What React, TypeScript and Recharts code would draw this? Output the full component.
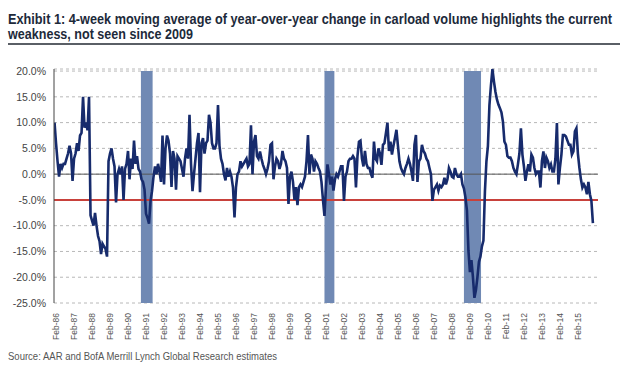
import { LineChart, Line, XAxis, YAxis, CartesianGrid, ReferenceArea, ReferenceLine } from 'recharts'

// 4-week moving average of y/y carload change
const yoy1986to1990 = [
  10, 6, 2.5, -0.5, 2, 1.2, 2, 2, 3, 4, 5.5, 4,
  -1.3, 3, 4, 6, 4.5, 7.5, 8, 15, 9, 10, 8.5, 15,
  -8, -9, -10, -7.5, -10, -12, -13, -15.5, -13.5, -14, -14.5, -16,
  2.5, 4, 5, 3, 1.5, -5.5, 0, 1, 0, 1.5, -5, 1,
  2, 4.5, -1, 3, 1, 6.5, 2, 3.5, 1, 0.5, -1, -1.5,
]
const yoy1991to1995 = [
  -3, -7.7, -8.5, -9.6, -5.2, -3.3, -0.5, 1.5, 0, 2, 0.5, -1.5,
  7.5, -2, 5, 7.5, 6.5, 4, -2.5, 4.5, 3, -3, 3.5, 3,
  2.5, 1, -0.5, 3, 5, 3, 11.5, 2, -3.3, 0, 3, 6,
  8, -3.5, 6, 7, 4, 6, 6.5, 11.5, 10, 6, 5, 5,
  6, 13.4, 5.5, 3, 2, 0, -1.2, 1.2, -0.5, 0.5, -0.5, -2.6,
]
const yoy1996to2000 = [
  -8.4, -2.5, 0, 0.5, 2.5, 1.5, 2, 2.5, 3, 1.5, 2, 9.5,
  0, 6.3, 7.6, 3.5, 3, 4.4, 3, 1.8, 1, 0, 1, 2.5,
  5.7, 6, -1, 1.5, 3, 2.5, 1, 2, 4.5, 3, 2.5, 1.2,
  -5.8, -0.5, 0.5, -1.5, -5, -2.5, -6, -2.5, -2, -2.5, -1.5, -0.5,
  2.5, 7.6, 0, 3.8, 3, 0.5, 2.5, 2, 1.2, 0.5, -1.5, -5,
]
const yoy2001to2005 = [
  -8.1, -2.5, 1.9, 0, -2, -0.5, -3.2, -1, 0, -0.5, 0.5, 1.5,
  1.5, -5.2, -0.5, 0.5, 2.5, 3, 3, 3.5, 3, -2.6, 3.5, 6.3,
  6.5, 3, 1.5, 4.5, 2, 1.2, 1.2, 0, -0.7, 6.3, 3, 2.5,
  5, 4, 1.8, 5.7, 6, 8, 10, 4.5, 6.3, 3.8, 5.5, 7,
  8.6, 5.5, 2.5, 1.2, 0.5, 0, 1.2, 2, 3, 2, 0.5, -1.3,
]
const yoy2006to2010 = [
  5.7, 7.6, -1.5, 2.5, 3, 5.7, 4.5, 4, 3, 2.5, 1.2, 0,
  -5.2, -3, -2.5, -2, -3.2, -2.2, -2.5, -2, -0.7, -2, -1, 1.2,
  0.5, -0.5, -0.7, 1.2, 0, -0.5, -0.5, 0, -2, -2.8, -4.5, -7,
  -14.8, -19, -16.7, -20, -24, -22.5, -20, -17, -16, -14, -12.9, -3.3,
  2.5, 5.5, 13.4, 17.2, 20.4, 18, 16, 14.5, 13.5, 12.8, 12, 10.2,
]
const yoy2011to2015 = [
  6.3, 5.7, 3.5, 3.2, 3.2, 2.5, 1.2, 0.5, 0, 1.9, 4, 8.9,
  3.8, 1.5, -1.3, 0.5, 1.9, 0.5, 3.8, 3.2, 1.2, 0, 0.5, 0.5,
  -2.6, 2.5, 4.4, 1.2, 3.2, 2.5, 1.2, 1.9, 0.5, 0.5, 3, 9.9,
  -2, 1.2, 3.8, 7.6, 7.6, 7.3, 6.5, 5.7, 5.7, 3.8, 4.4, 8.3,
  8.9, 4, 1.2, -1, -2.6, -2, -2.6, -3.9, -1.5, -3.9, -5.2, -9.5,
]

const firstYear = 1986
const tickYears = [
  1986, 1987, 1988, 1989, 1990, 1991, 1992, 1993, 1994, 1995,
  1996, 1997, 1998, 1999, 2000, 2001, 2002, 2003, 2004, 2005,
  2006, 2007, 2008, 2009, 2010, 2011, 2012, 2013, 2014, 2015,
]
const tickLabels = [
  'Feb-86', 'Feb-87', 'Feb-88', 'Feb-89', 'Feb-90', 'Feb-91', 'Feb-92', 'Feb-93', 'Feb-94', 'Feb-95',
  'Feb-96', 'Feb-97', 'Feb-98', 'Feb-99', 'Feb-00', 'Feb-01', 'Feb-02', 'Feb-03', 'Feb-04', 'Feb-05',
  'Feb-06', 'Feb-07', 'Feb-08', 'Feb-09', 'Feb-10', 'Feb-11', 'Feb-12', 'Feb-13', 'Feb-14', 'Feb-15',
]
const yTicks = [20, 15, 10, 5, 0, -5, -10, -15, -20, -25]

// shaded recession periods (fractional years)
const recessionStarts = [1990.8, 2001.0, 2008.75]
const recessionEnds = [1991.45, 2001.55, 2009.7]

const threshold = -5

const titleLines = [
  'Exhibit 1: 4-week moving average of year-over-year change in carload volume highlights the current',
  'weakness, not seen since 2009',
]
const sourceText = 'Source: AAR and BofA Merrill Lynch Global Research estimates'

const values = [
  ...yoy1986to1990,
  ...yoy1991to1995,
  ...yoy1996to2000,
  ...yoy2001to2005,
  ...yoy2006to2010,
  ...yoy2011to2015,
]
const data = values.map((v, i) => ({ t: firstYear + i / 12, yoy: v }))
const febTicks = tickYears.map((y) => y + 1 / 12)

const font = "'Liberation Sans', Arial, sans-serif"
// the exhibit uses a condensed face; squeeze Liberation Sans horizontally
const squeeze = 0.78

function XTick(props: any) {
  const { x, y, payload } = props
  const idx = febTicks.findIndex((v) => Math.abs(v - payload.value) < 0.01)
  const ty = y + 2
  return (
    <text
      x={x}
      y={ty}
      transform={`rotate(-90, ${x}, ${ty})`}
      textAnchor="end"
      dy="0.35em"
      fontSize={8.5}
      fontFamily={font}
      fill="#555"
    >
      {tickLabels[idx] ?? ''}
    </text>
  )
}

export default function App() {
  return (
    <div style={{ position: 'absolute', left: 0, top: 0, width: 620, height: 370, background: '#fff', overflow: 'hidden' }}>
      <svg width={620} height={370} style={{ position: 'absolute', left: 0, top: 0 }}>
        <g transform={`translate(8,0) scale(${squeeze},1)`}>
          <text x={0} y={24.5} fontFamily={font} fontWeight={700} fontSize={14} fill="#1d2a3a" textLength={604 / squeeze} lengthAdjust="spacingAndGlyphs">
            {titleLines[0]}
          </text>
          <text x={0} y={39.5} fontFamily={font} fontWeight={700} fontSize={14} fill="#1d2a3a" textLength={185 / squeeze} lengthAdjust="spacingAndGlyphs">
            {titleLines[1]}
          </text>
        </g>
        <rect x={8} y={43} width={612} height={2} fill="#5a5f66" />
        <g transform={`translate(8,0) scale(0.88,1)`}>
          <text x={0} y={360.5} fontFamily={font} fontSize={11} fill="#555" textLength={269 / 0.88} lengthAdjust="spacingAndGlyphs">
            {sourceText}
          </text>
        </g>
      </svg>

      <div style={{ position: 'absolute', left: 0, top: 50 }}>
        <LineChart width={620} height={300} data={data} margin={{ top: 19, right: 22, bottom: 0, left: 0 }}>
          <CartesianGrid horizontal vertical={false} stroke="#b8b8b8" strokeDasharray="3 3" />
          {recessionStarts.map((s, i) => (
            <ReferenceArea
              key={`rec-${i}`}
              x1={s}
              x2={recessionEnds[i]}
              y1={-25}
              y2={20}
              fill="#7089b4"
              fillOpacity={1}
              stroke="none"
            />
          ))}
          <ReferenceLine y={0} stroke="#555" strokeWidth={1} />
          <ReferenceLine y={threshold} stroke="#c8413b" strokeWidth={2} />
          <XAxis
            type="number"
            dataKey="t"
            domain={[1985.97, 2016.2]}
            ticks={febTicks}
            interval={0}
            axisLine={false}
            tickLine={false}
            height={47}
            tick={<XTick />}
            allowDataOverflow
          />
          <YAxis
            type="number"
            domain={[-25, 20]}
            ticks={yTicks}
            interval={0}
            width={54}
            axisLine={{ stroke: '#444', strokeWidth: 1 }}
            tickLine={false}
            tickFormatter={(v: number) => `${v.toFixed(1)}%`}
            tick={{ fontSize: 10.5, fill: '#444', fontFamily: font }}
          />
          <Line
            type="linear"
            dataKey="yoy"
            stroke="#172b6c"
            strokeWidth={2.6}
            dot={false}
            isAnimationActive={false}
          />
        </LineChart>
      </div>
    </div>
  )
}
